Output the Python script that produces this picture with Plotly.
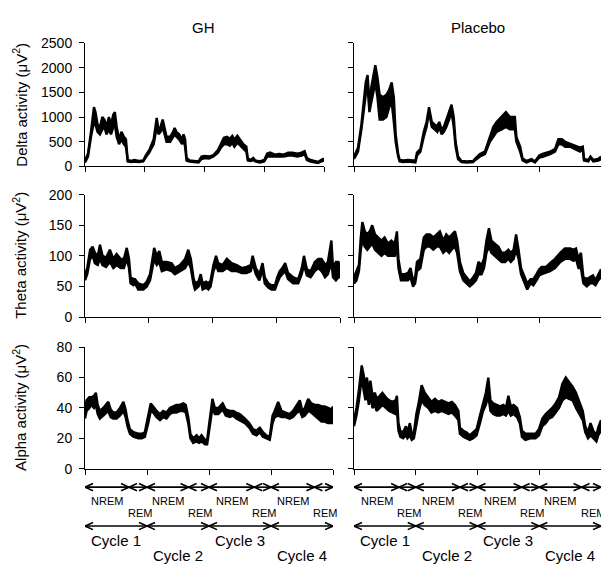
import plotly.graph_objects as go

FONT = "Liberation Sans, Arial, Helvetica, sans-serif"

# ---------------- data ----------------
TICK_X = [0, 20, 40, 60, 80]
CYCLE_BOUNDS = [0, 20, 40, 60, 80]
GH_NREM_END = [14.2, 33.4, 54.6, 74.0]
PL_NREM_END = [14.6, 34.3, 54.3, 73.7]
COL_TITLES = ["GH", "Placebo"]
ROW_TITLES = ["Delta activity (μV<sup>2</sup>)", "Theta activity (μV<sup>2</sup>)",
              "Alpha activity (μV<sup>2</sup>)"]
Y_MAX = [2500, 200, 80]
Y_STEP = [500, 50, 20]

gh_delta_x = [0, 1.0, 2.0, 2.5, 3.0, 3.5, 4.2, 5.0, 5.8, 6.5,
              7.2, 8.0, 8.7, 9.5, 10.0, 10.6, 11.4, 12.2, 13.0, 13.7,
              14.0, 14.3, 15.5, 16.5, 18.0, 19.5, 20.3, 21.5, 23.0, 23.6,
              24.0, 24.6, 25.3, 26.0, 26.6, 27.3, 28.5, 29.5, 30.0, 30.6,
              31.5, 32.5, 33.0, 33.5, 34.0, 35.0, 36.5, 38.0, 39.0, 40.0,
              41.5, 43.0, 44.5, 45.5, 46.5, 47.5, 48.5, 49.3, 50.0, 51.0,
              52.0, 53.0, 54.0, 54.5, 55.5, 56.3, 57.0, 58.5, 60.0, 61.0,
              62.0, 63.5, 65.0, 66.5, 68.0, 69.5, 71.0, 72.5, 73.5, 74.3,
              75.5, 76.5, 78.0, 79.0, 80.0]
gh_delta_lo = [80, 200, 600, 800, 900, 850, 700, 650, 750, 800,
               650, 750, 650, 800, 850, 600, 450, 550, 450, 400,
               250, 100, 90, 100, 90, 100, 180, 280, 450, 700,
               800, 650, 700, 800, 650, 500, 500, 600, 650, 600,
               550, 450, 550, 400, 120, 100, 90, 80, 150, 170,
               160, 200, 280, 380, 450, 450, 420, 480, 400, 480,
               420, 350, 300, 120, 110, 130, 100, 80, 100, 200,
               200, 200, 210, 200, 220, 220, 200, 220, 250, 130,
               100, 90, 70, 100, 120]
gh_delta_hi = [120, 260, 700, 950, 1200, 1100, 850, 800, 1000, 950,
               800, 1000, 850, 1050, 1100, 800, 550, 700, 600, 550,
               350, 130, 110, 130, 110, 120, 220, 330, 550, 850,
               980, 750, 800, 950, 750, 600, 600, 700, 780, 700,
               650, 550, 650, 550, 170, 120, 110, 100, 200, 210,
               200, 230, 330, 460, 580, 600, 560, 620, 540, 620,
               540, 450, 400, 160, 130, 170, 120, 100, 130, 260,
               280, 240, 250, 240, 280, 280, 260, 280, 310, 170,
               130, 110, 90, 130, 160]

pl_delta_x = [0, 1.3, 2.4, 3.1, 3.8, 4.4, 5.0, 5.6, 6.4, 6.9,
              7.6, 8.3, 9.4, 10.5, 11.4, 12.2, 12.9, 13.5, 14.3, 14.8,
              16.0, 17.5, 19.0, 19.9, 20.4, 21.5, 22.6, 23.5, 24.3, 25.2,
              26.1, 27.0, 27.6, 28.4, 29.1, 29.9, 30.8, 31.6, 32.3, 32.9,
              33.7, 34.8, 36.5, 38.6, 39.1, 40.8, 42.4, 44.0, 45.1, 46.2,
              47.8, 49.2, 50.5, 52.1, 52.6, 53.8, 54.6, 55.9, 57.5, 58.6,
              60.0, 61.3, 63.5, 65.1, 66.2, 67.3, 68.4, 70.0, 71.6, 73.2,
              74.1, 74.5, 75.9, 76.6, 77.5, 79.1, 80.0]
pl_delta_lo = [150, 300, 750, 1150, 1450, 1600, 1100, 1300, 1550, 1700,
               1400, 950, 950, 1000, 1200, 1300, 900, 500, 200, 100,
               90, 100, 90, 80, 220, 300, 600, 800, 1100, 800,
               750, 700, 800, 650, 700, 800, 950, 1100, 800, 400,
               150, 90, 80, 90, 120, 200, 250, 500, 600, 700,
               750, 800, 750, 750, 500, 300, 120, 80, 120, 80,
               180, 200, 250, 300, 450, 450, 400, 400, 350, 300,
               350, 120, 100, 180, 100, 120, 150]
pl_delta_hi = [200, 380, 850, 1350, 1700, 1850, 1300, 1600, 1900, 2050,
               1800, 1450, 1400, 1450, 1550, 1700, 1400, 650, 250, 130,
               120, 130, 120, 120, 280, 350, 700, 900, 1200, 900,
               850, 820, 900, 750, 800, 950, 1100, 1250, 1000, 500,
               200, 110, 100, 110, 150, 250, 300, 600, 800, 900,
               1000, 1100, 1000, 1000, 600, 400, 160, 110, 150, 100,
               220, 260, 300, 350, 550, 550, 500, 460, 420, 380,
               400, 150, 130, 200, 130, 150, 200]

gh_theta_x = [0, 0.7, 1.6, 2.4, 3.1, 4.0, 4.7, 5.5, 6.6, 7.8,
              8.9, 9.9, 11.2, 12.2, 13.1, 13.8, 14.3, 15.2, 15.7, 16.7,
              18.3, 19.4, 20.4, 21.2, 21.7, 22.5, 23.3, 24.1, 25.6, 27.2,
              28.2, 29.8, 31.4, 32.4, 33.2, 34.0, 34.5, 35.6, 36.3, 36.9,
              38.0, 38.7, 39.4, 40.3, 41.1, 41.8, 43.2, 44.5, 46.0, 47.6,
              49.2, 50.7, 52.0, 52.6, 53.6, 54.7, 55.7, 56.4, 57.5, 58.5,
              59.6, 60.3, 61.1, 61.9, 62.8, 63.7, 65.3, 66.9, 68.0, 68.7,
              69.6, 70.8, 72.1, 73.2, 74.2, 74.8, 75.3, 76.2, 77.3, 77.8,
              78.7, 79.5, 80.0]
gh_theta_lo = [60, 70, 95, 100, 88, 85, 95, 85, 82, 90,
               80, 85, 80, 80, 95, 80, 55, 52, 55, 45,
               45, 50, 60, 85, 95, 85, 90, 75, 78, 75,
               70, 75, 80, 90, 80, 55, 45, 50, 60, 45,
               48, 45, 50, 75, 85, 75, 75, 80, 75, 75,
               72, 72, 75, 88, 70, 60, 78, 55, 48, 45,
               45, 55, 65, 70, 75, 62, 55, 55, 70, 85,
               68, 65, 75, 80, 75, 70, 65, 70, 90, 65,
               60, 65, 65]
gh_theta_hi = [70, 80, 110, 115, 105, 100, 118, 100, 97, 110,
               95, 103, 95, 95, 113, 95, 65, 62, 62, 55,
               52, 58, 70, 95, 113, 100, 108, 90, 90, 88,
               80, 85, 95, 110, 95, 65, 55, 58, 70, 55,
               58, 55, 60, 85, 100, 88, 85, 95, 88, 85,
               80, 82, 85, 100, 80, 70, 88, 65, 55, 52,
               52, 65, 75, 80, 88, 72, 65, 62, 80, 100,
               78, 75, 90, 95, 95, 90, 85, 90, 125, 80,
               90, 90, 85]

pl_theta_x = [0, 0.8, 1.6, 2.2, 2.7, 3.5, 4.3, 5.1, 5.9, 6.8,
              7.8, 8.9, 9.9, 11.0, 12.1, 13.2, 13.9, 14.4, 15.2, 16.5,
              17.5, 18.3, 19.1, 19.8, 20.4, 21.5, 22.6, 23.5, 24.6, 25.7,
              26.8, 27.8, 28.9, 29.9, 30.8, 31.6, 32.7, 33.4, 34.3, 35.4,
              36.4, 37.5, 38.6, 39.5, 40.3, 41.3, 42.1, 42.9, 43.7, 44.5,
              45.6, 46.8, 47.8, 48.9, 50.0, 50.8, 51.7, 52.5, 53.3, 54.1,
              54.9, 56.1, 57.2, 58.1, 59.1, 60.0, 60.8, 62.2, 63.5, 65.1,
              66.8, 68.3, 70.0, 71.1, 71.9, 72.7, 73.5, 74.3, 75.4, 76.5,
              77.4, 78.2, 79.1, 80.0]
pl_theta_lo = [55, 60, 75, 110, 125, 115, 110, 115, 120, 110,
               105, 100, 105, 100, 100, 100, 115, 80, 60, 60,
               60, 65, 50, 55, 75, 80, 110, 115, 115, 110,
               115, 115, 105, 110, 105, 110, 115, 105, 75, 60,
               55, 50, 55, 60, 70, 70, 80, 105, 115, 105,
               100, 95, 90, 90, 95, 90, 95, 110, 95, 70,
               60, 45, 55, 52, 60, 68, 70, 72, 75, 80,
               90, 95, 95, 92, 95, 80, 80, 55, 50, 55,
               55, 52, 60, 65]
pl_theta_hi = [65, 75, 85, 130, 155, 140, 135, 140, 150, 135,
               130, 125, 130, 120, 125, 120, 140, 95, 70, 70,
               72, 80, 60, 65, 90, 95, 130, 135, 135, 130,
               135, 140, 125, 135, 130, 135, 140, 125, 90, 72,
               65, 58, 65, 72, 90, 85, 95, 125, 145, 125,
               120, 115, 105, 105, 110, 105, 110, 135, 110, 80,
               70, 55, 62, 62, 70, 78, 82, 82, 88, 95,
               105, 112, 112, 110, 112, 95, 105, 65, 62, 65,
               68, 60, 70, 78]

gh_alpha_x = [0, 0.5, 1.4, 2.1, 2.9, 3.5, 4.1, 4.8, 5.9, 6.8,
              7.5, 8.3, 9.1, 10.2, 11.3, 12.4, 13.1, 13.7, 14.5, 15.6,
              17.2, 18.3, 19.3, 20.4, 21.2, 22.0, 23.1, 24.2, 25.2, 26.3,
              27.4, 28.5, 29.5, 30.6, 31.7, 32.5, 33.3, 34.0, 34.9, 36.0,
              36.8, 37.6, 38.7, 39.4, 40.3, 41.1, 41.9, 43.0, 44.4, 45.4,
              46.7, 47.8, 48.8, 49.9, 51.6, 53.0, 54.2, 55.3, 56.4, 57.4,
              58.5, 59.6, 60.5, 61.2, 62.3, 63.4, 64.7, 66.0, 67.1, 68.4,
              69.3, 70.1, 70.9, 72.0, 73.0, 74.1, 75.2, 76.3, 77.3, 78.4,
              79.5, 80.0]
gh_alpha_lo = [33, 38, 40, 42, 40, 42, 36, 33, 35, 37,
               38, 34, 33, 33, 35, 38, 34, 28, 23, 21,
               20, 20, 21, 30, 38, 37, 34, 32, 34, 33,
               36, 37, 37, 38, 38, 37, 30, 20, 17, 18,
               17, 18, 16, 16, 30, 40, 36, 36, 39, 35,
               34, 35, 33, 32, 30, 27, 23, 22, 24, 21,
               20, 19, 30, 34, 35, 34, 34, 33, 34, 37,
               38, 34, 35, 38, 37, 35, 33, 31, 31, 30,
               30, 30]
gh_alpha_hi = [38, 45, 47, 47, 48, 50, 42, 38, 40, 42,
               44, 39, 37, 37, 40, 44, 39, 32, 26, 24,
               23, 23, 24, 35, 43, 41, 38, 36, 38, 37,
               40, 41, 42, 42, 43, 42, 34, 23, 20, 22,
               20, 22, 19, 19, 35, 46, 40, 40, 43, 39,
               38, 38, 37, 36, 33, 30, 26, 25, 27, 24,
               22, 21, 35, 38, 44, 38, 37, 36, 38, 42,
               45, 38, 40, 46, 43, 42, 42, 41, 41, 40,
               39, 41]

pl_alpha_x = [0, 0.8, 1.6, 2.2, 2.5, 3.1, 3.7, 4.2, 4.8, 5.3,
              6.0, 6.8, 7.3, 8.3, 9.2, 10.3, 11.4, 12.4, 13.5, 13.9,
              14.4, 15.0, 15.9, 16.8, 17.3, 18.1, 18.7, 19.4, 20.2, 21.0,
              21.9, 22.9, 24.1, 25.1, 26.2, 27.3, 28.4, 29.5, 30.6, 31.7,
              32.7, 33.8, 34.3, 35.4, 36.4, 37.5, 38.6, 39.7, 40.8, 41.8,
              42.7, 43.5, 44.2, 45.1, 46.2, 47.3, 48.4, 49.2, 50.0, 50.8,
              51.7, 52.8, 53.7, 54.4, 55.5, 57.1, 58.8, 59.9, 61.0, 62.1,
              63.1, 64.2, 65.3, 66.4, 67.5, 68.6, 69.7, 70.8, 71.9, 73.0,
              74.1, 74.9, 75.8, 76.6, 77.5, 78.5, 79.1, 80.0]
pl_alpha_lo = [28, 35, 45, 55, 60, 52, 45, 50, 42, 48,
               40, 42, 38, 40, 42, 40, 38, 37, 36, 38,
               25, 21, 20, 22, 20, 22, 19, 20, 30, 38,
               45, 42, 40, 37, 38, 37, 38, 37, 36, 37,
               35, 32, 23, 21, 20, 19, 20, 22, 30, 38,
               42, 48, 38, 36, 35, 35, 36, 35, 38, 35,
               36, 34, 30, 21, 19, 20, 20, 22, 28, 30,
               33, 34, 37, 40, 45, 47, 46, 45, 40, 36,
               32, 24, 20, 22, 20, 18, 22, 25]
pl_alpha_hi = [32, 40, 52, 62, 68, 62, 55, 60, 50, 58,
               48, 50, 46, 48, 50, 47, 45, 44, 45, 48,
               30, 25, 24, 28, 24, 30, 23, 24, 36, 44,
               55, 50, 47, 44, 46, 44, 45, 44, 43, 44,
               42, 38, 27, 25, 24, 22, 24, 26, 35, 44,
               50, 60, 45, 43, 42, 41, 42, 40, 48, 41,
               42, 40, 34, 25, 23, 23, 23, 26, 33, 36,
               38, 40, 43, 47, 56, 60, 57, 54, 50, 44,
               38, 28, 24, 30, 25, 22, 27, 32]

PANELS = [  # (row, col, x, lo, hi)
    (0, 0, gh_delta_x, gh_delta_lo, gh_delta_hi),
    (0, 1, pl_delta_x, pl_delta_lo, pl_delta_hi),
    (1, 0, gh_theta_x, gh_theta_lo, gh_theta_hi),
    (1, 1, pl_theta_x, pl_theta_lo, pl_theta_hi),
    (2, 0, gh_alpha_x, gh_alpha_lo, gh_alpha_hi),
    (2, 1, pl_alpha_x, pl_alpha_lo, pl_alpha_hi),
]

# ---------------- layout geometry ----------------
W, H = 601, 570
ROW_PX = [(36, 163), (192, 318), (349, 474)]          # top, bottom pixel of each row
LEFT_PX = [(85, 324), (85, 340), (85, 333)]           # left column x extent per row
RIGHT_PX = (354, 601)


def px_x(p):
    return p / W


def px_y(p):
    return 1 - p / H


fig = go.Figure()
layout_axes = {}

for idx, (r, c, xs, lo, hi) in enumerate(PANELS):
    n = idx + 1
    xname = "x" if n == 1 else f"x{n}"
    yname = "y" if n == 1 else f"y{n}"
    xkey = "xaxis" if n == 1 else f"xaxis{n}"
    ykey = "yaxis" if n == 1 else f"yaxis{n}"
    fig.add_trace(go.Scatter(x=xs, y=lo, mode="lines", xaxis=xname, yaxis=yname,
                             line=dict(color="black", width=2.4), hoverinfo="skip"))
    fig.add_trace(go.Scatter(x=xs, y=hi, mode="lines", xaxis=xname, yaxis=yname,
                             fill="tonexty", fillcolor="black",
                             line=dict(color="black", width=2.4), hoverinfo="skip"))
    xp = LEFT_PX[r] if c == 0 else RIGHT_PX
    yp = ROW_PX[r]
    layout_axes[xkey] = dict(
        domain=[px_x(xp[0]), px_x(xp[1])], anchor=yname, range=[0, 80],
        tickvals=TICK_X, showticklabels=False, ticks="outside", ticklen=5,
        tickcolor="black", tickwidth=1, showline=True, linecolor="black",
        linewidth=1, showgrid=False, zeroline=False, fixedrange=True)
    layout_axes[ykey] = dict(
        domain=[px_y(yp[1]), px_y(yp[0])], anchor=xname, range=[0, Y_MAX[r]],
        tickmode="linear", tick0=0, dtick=Y_STEP[r], showticklabels=(c == 0),
        ticks="outside", ticklen=5, tickcolor="black", tickwidth=1,
        showline=True, linecolor="black", linewidth=1, showgrid=False,
        zeroline=False, fixedrange=True, ticklabelstandoff=4,
        tickfont=dict(family=FONT, size=14, color="black"))


def note(text, x, y, size, xref="paper", angle=0):
    return dict(text=text, x=x, y=y, xref=xref, yref="paper", textangle=angle,
                xanchor="center", yanchor="middle", showarrow=False,
                font=dict(family=FONT, size=size, color="black"))


annotations = [note(COL_TITLES[0], px_x(204), px_y(20), 15),
               note(COL_TITLES[1], px_x(478), px_y(20), 15)]
for r, t in enumerate(ROW_TITLES):
    yc = (ROW_PX[r][0] + ROW_PX[r][1]) / 2
    annotations.append(note(t, px_x(20), px_y(yc), 15, angle=-90))

# sleep-stage schematic below the alpha panels
shapes = []
ROW1_Y = px_y(493)
ROW2_Y = px_y(533)
NREM_Y = px_y(507.5)
REM_Y = px_y(519.5)
CYC_Y = [px_y(548), px_y(563)]
HEAD_L, HEAD_H = 8, 3.6


def double_arrow(xref, a, b, y):
    shapes.append(dict(type="line", xref=xref, yref="paper", x0=a, x1=b, y0=y, y1=y,
                       line=dict(color="black", width=1.6)))
    shapes.append(dict(type="path", xref=xref, yref="paper", xsizemode="pixel",
                       ysizemode="pixel", xanchor=a, yanchor=y,
                       path=f"M {HEAD_L},{HEAD_H} L 0,0 L {HEAD_L},{-HEAD_H}",
                       line=dict(color="black", width=1.6)))
    shapes.append(dict(type="path", xref=xref, yref="paper", xsizemode="pixel",
                       ysizemode="pixel", xanchor=b, yanchor=y,
                       path=f"M {-HEAD_L},{HEAD_H} L 0,0 L {-HEAD_L},{-HEAD_H}",
                       line=dict(color="black", width=1.6)))


for xref, nrem_end in (("x5", GH_NREM_END), ("x6", PL_NREM_END)):
    for i in range(4):
        a, b, cc = CYCLE_BOUNDS[i], nrem_end[i], CYCLE_BOUNDS[i + 1]
        double_arrow(xref, a, b, ROW1_Y)
        double_arrow(xref, b, cc, ROW1_Y)
        double_arrow(xref, a, cc, ROW2_Y)
        annotations.append(note("NREM", (a + b) / 2, NREM_Y, 11, xref=xref))
        annotations.append(note("REM", (b + cc) / 2 + 0.5, REM_Y, 11, xref=xref))
        annotations.append(note(f"Cycle {i + 1}", (a + cc) / 2, CYC_Y[i % 2], 15, xref=xref))

fig.update_layout(
    width=W, height=H, margin=dict(l=0, r=0, t=0, b=0),
    paper_bgcolor="white", plot_bgcolor="white", showlegend=False,
    font=dict(family=FONT, color="black"),
    annotations=annotations, shapes=shapes, **layout_axes)

fig.write_html("out.html", config={"displayModeBar": False, "staticPlot": True})

# remove the default page margin so the 601x570 figure fills the window exactly
with open("out.html", encoding="utf-8") as f:
    page = f.read()
page = page.replace(
    "<head>",
    "<head><style>html,body{margin:0;padding:0;overflow:hidden;width:601px;height:570px;}</style>",
    1)
with open("out.html", "w", encoding="utf-8") as f:
    f.write(page)
